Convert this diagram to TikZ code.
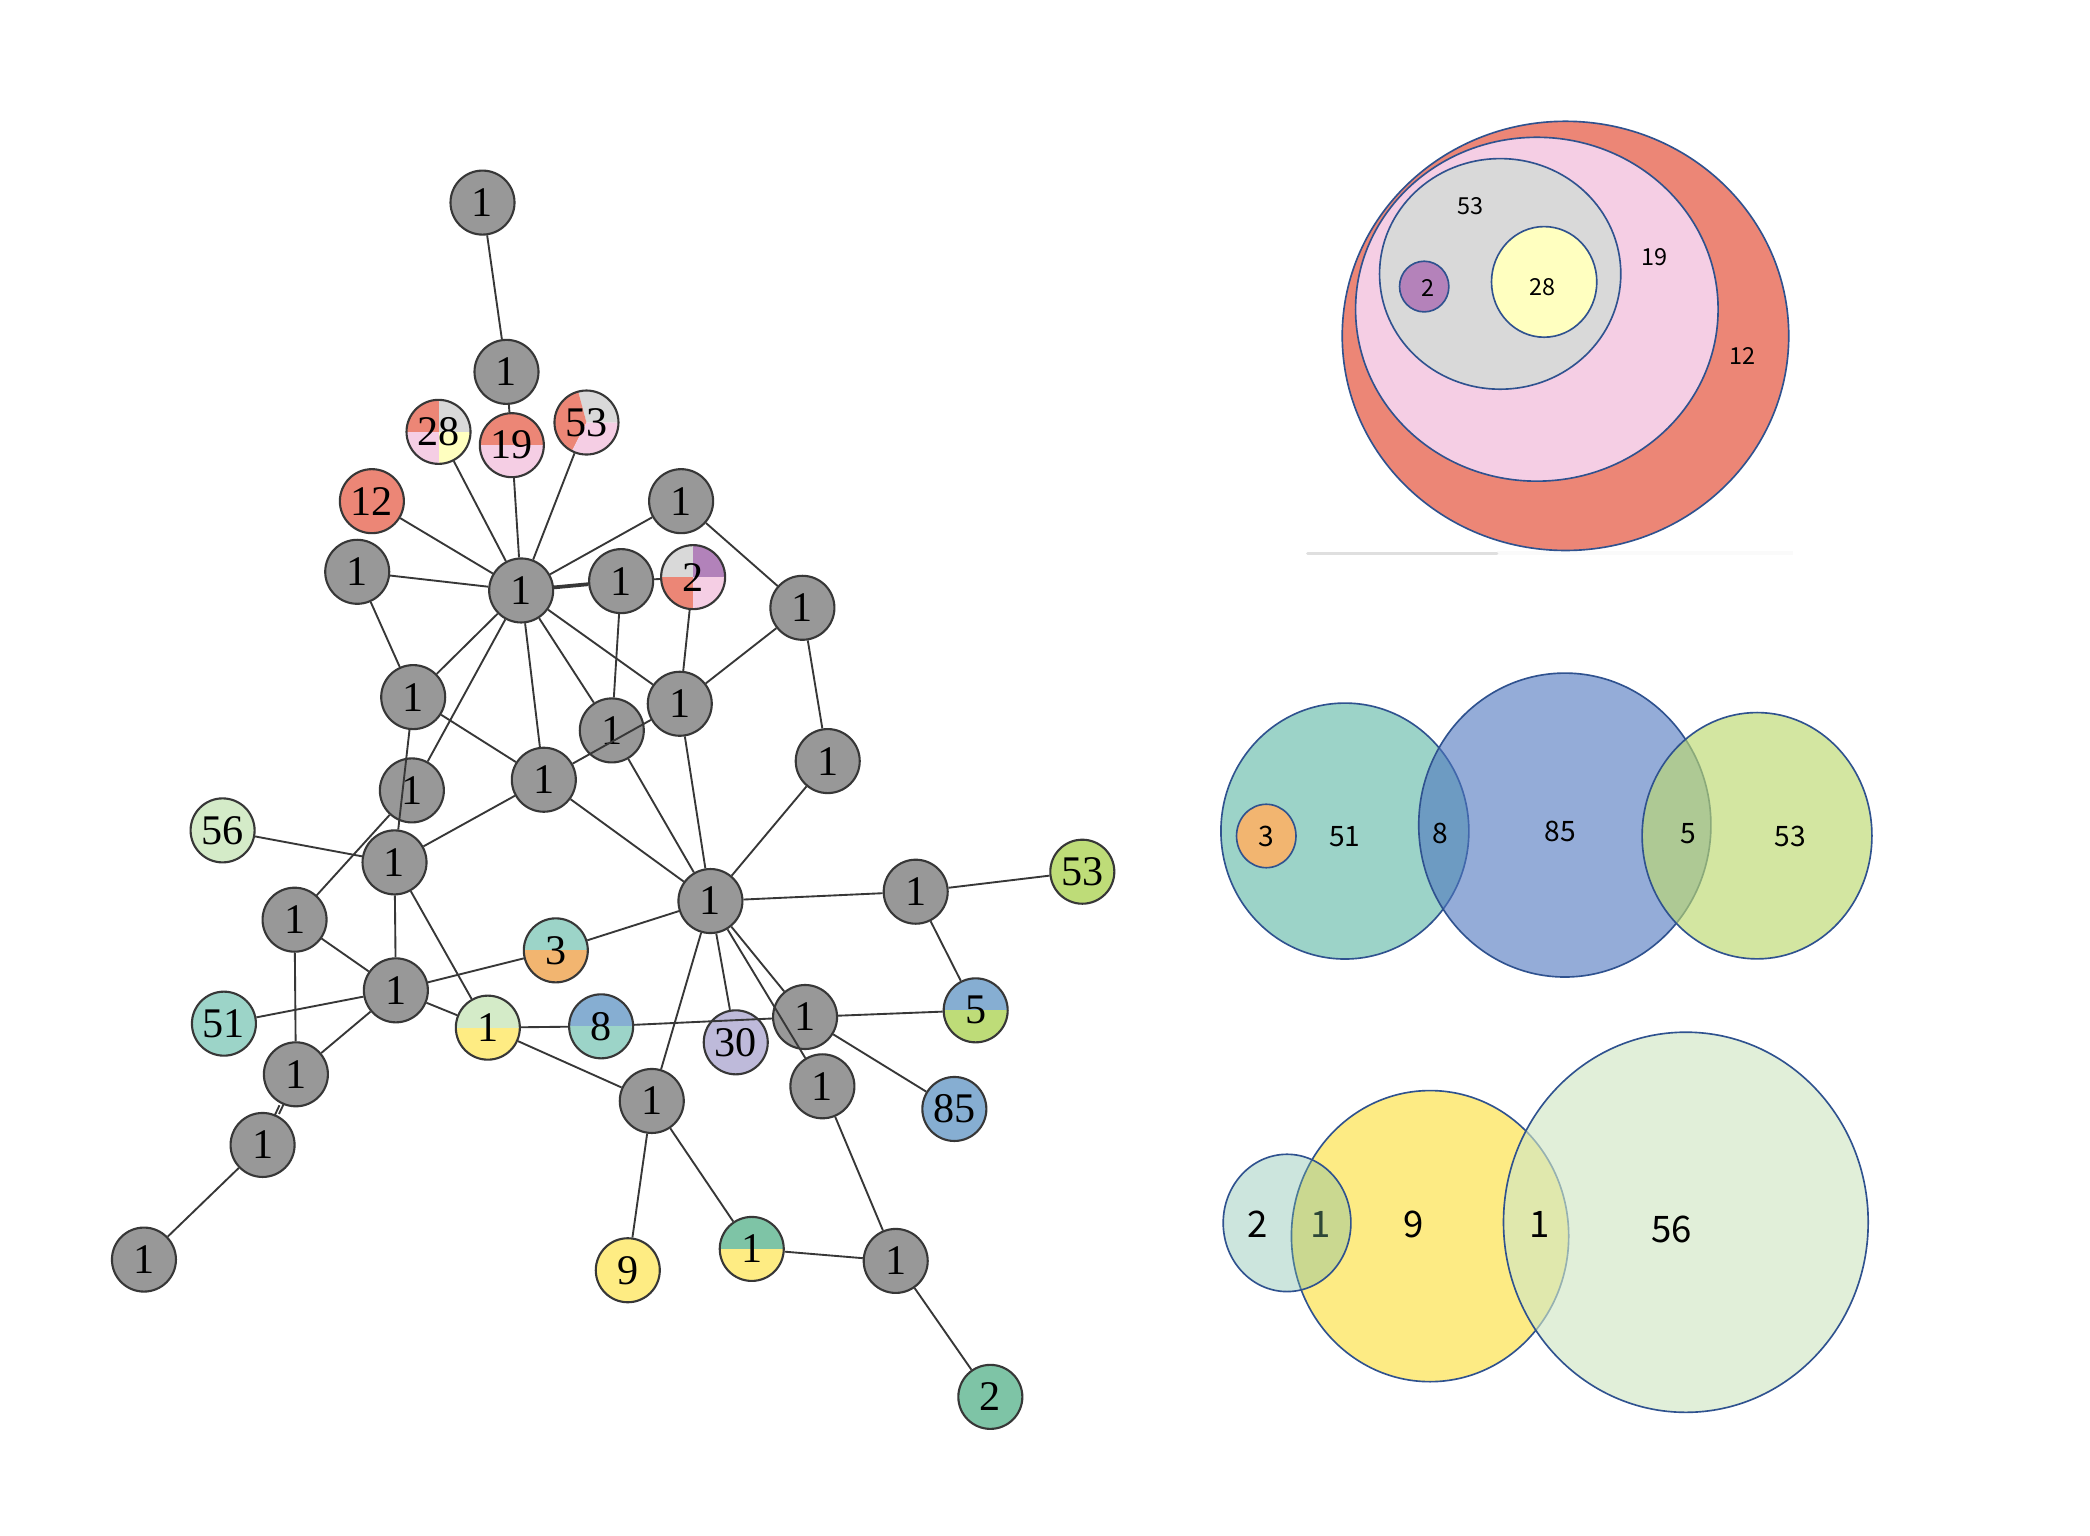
\documentclass[tikz,border=0pt]{standalone}
\usepackage{fontspec}
\newfontfamily\nodefont{Liberation Serif}
\newfontfamily\vennfont{Noto Sans CJK SC}
\definecolor{nodegray}{RGB}{152,152,152}
\definecolor{nodeline}{RGB}{55,55,55}
\definecolor{edgecol}{RGB}{55,55,55}
\definecolor{cRed}{RGB}{236,134,118}
\definecolor{cPink}{RGB}{245,206,228}
\definecolor{cLGrey}{RGB}{217,217,217}
\definecolor{cLYellow}{RGB}{255,255,192}
\definecolor{cPurple}{RGB}{178,130,186}
\definecolor{cTeal}{RGB}{156,212,200}
\definecolor{cOrange}{RGB}{242,181,112}
\definecolor{cBlue}{RGB}{134,174,210}
\definecolor{cLime}{RGB}{190,220,120}
\definecolor{cLav}{RGB}{190,186,218}
\definecolor{cYellow}{RGB}{254,236,131}
\definecolor{cLGreen}{RGB}{212,235,200}
\definecolor{cGreen}{RGB}{126,196,166}
\definecolor{vline}{RGB}{47,82,143}
\definecolor{vBlue}{RGB}{78,118,190}
\definecolor{vLime}{RGB}{188,217,112}
\definecolor{vSmall}{RGB}{121,187,166}
\definecolor{vBig}{RGB}{209,231,197}
\definecolor{vYellow}{RGB}{253,235,132}
\definecolor{vTeal}{RGB}{156,211,200}
\definecolor{vRed}{RGB}{236,134,118}
\definecolor{vPink}{RGB}{245,206,228}
\definecolor{vGrey}{RGB}{217,217,217}
\definecolor{vPurple}{RGB}{180,130,186}
\definecolor{vLYellow}{RGB}{255,255,192}
\tikzset{
  gnode/.style={circle, draw=nodeline, line width=0.45pt, minimum size=0.48cm, inner sep=0pt,
    font={\nodefont\fontsize{9pt}{10pt}\selectfont}},
  gr/.style={gnode, fill=nodegray},
  solid/.style={gnode, fill=#1},
  half/.style 2 args={gnode, path picture={
    \fill[#1] (path picture bounding box.north west) rectangle (path picture bounding box.east);
    \fill[#2] (path picture bounding box.west) rectangle (path picture bounding box.south east);}},
  quad/.style n args={4}{gnode, path picture={
    \fill[#1] (path picture bounding box.north west) rectangle (path picture bounding box.center);
    \fill[#2] (path picture bounding box.north east) rectangle (path picture bounding box.center);
    \fill[#3] (path picture bounding box.south west) rectangle (path picture bounding box.center);
    \fill[#4] (path picture bounding box.south east) rectangle (path picture bounding box.center);}},
  pie/.style={gnode, path picture={
    \fill[cLGrey] (path picture bounding box.center) -- ++(0:1cm) arc[start angle=0,end angle=105,radius=1cm] -- cycle;
    \fill[cRed] (path picture bounding box.center) -- ++(105:1cm) arc[start angle=105,end angle=243,radius=1cm] -- cycle;
    \fill[cPink] (path picture bounding box.center) -- ++(243:1cm) arc[start angle=243,end angle=360,radius=1cm] -- cycle;}},
  edge/.style={draw=edgecol, line width=0.4pt},
  venn/.style={draw=vline, line width=0.35pt},
  vlab/.style={inner sep=0pt, font={\vennfont\fontsize{#1}{#1}\selectfont}},
}
\begin{document}
\begin{tikzpicture}[x=0.01cm, y=-0.01cm]
\useasboundingbox (0,0) rectangle (1568,1152);
\fill[white] (0,0) rectangle (1568,1152);

% ---------------- graph nodes ----------------
\node[gr] (ntop) at (362,152) {1};
\node[gr] (na) at (380,279) {1};
\node[quad={cRed}{cLGrey}{cPink}{cLYellow}] (n28) at (329,324) {28};
\node[half={cRed}{cPink}] (n19) at (384,334) {19};
\node[pie] (n53a) at (440,317) {53};
\node[solid=cRed] (n12) at (279,376) {12};
\node[gr] (nl) at (268,429) {1};
\node[gr] (hub) at (391,443) {1};
\node[gr] (nb) at (466,436) {1};
\node[quad={cLGrey}{cPurple}{cRed}{cPink}] (n2) at (520,433) {2};
\node[gr] (nc) at (511,376) {1};
\node[gr] (nd) at (602,456) {1};
\node[gr] (ne) at (310,523) {1};
\node[gr] (nf) at (459,548) {1};
\node[gr] (ng) at (510,528) {1};
\node[gr] (nh) at (621,571) {1};
\node[gr] (ni) at (309,593) {1};
\node[gr] (nj) at (408,585) {1};
\node[solid=cLGreen] (n56) at (167,623) {56};
\node[gr] (nk) at (296,647) {1};
\node[gr] (hubb) at (533,676) {1};
\node[gr] (nll) at (687,669) {1};
\node[solid=cLime] (n53b) at (812,654) {53};
\node[gr] (nm) at (221,690) {1};
\node[half={cTeal}{cOrange}] (n3) at (417,713) {3};
\node[solid=cTeal] (n51) at (168,768) {51};
\node[gr] (nn) at (297,743) {1};
\node[half={cLGreen}{cYellow}] (nsa) at (366,771) {1};
\node[half={cBlue}{cTeal}] (n8) at (451,770) {8};
\node[solid=cLav] (n30) at (552,782) {30};
\node[gr] (no) at (604,763) {1};
\node[half={cBlue}{cLime}] (n5) at (732,758) {5};
\node[gr] (np) at (222,806) {1};
\node[gr] (nq) at (617,815) {1};
\node[solid=cBlue] (n85) at (716,832) {85};
\node[gr] (nr) at (489,826) {1};
\node[gr] (ns) at (197,859) {1};
\node[gr] (nt) at (108,945) {1};
\node[solid=cYellow] (n9) at (471,953) {9};
\node[half={cGreen}{cYellow}] (nsb) at (564,937) {1};
\node[gr] (nu) at (672,946) {1};
\node[solid=cGreen] (n2b) at (743,1048) {2};

% ---------------- graph edges ----------------
\draw[edge] (ntop) -- (na);
\draw[edge] (na) -- (n19);
\draw[edge] (n19) -- (hub);
\draw[edge] (n28) -- (hub);
\draw[edge] (n53a) -- (hub);
\draw[edge] (n12) -- (hub);
\draw[edge] (nl) -- (hub);
\draw[edge] (nc) -- (hub);
\draw[edge, line width=0.8pt] (hub) -- (nb);
\draw[edge] (nb) -- (n2);
\draw[edge] (nc) -- (nd);
\draw[edge] (hub) -- (ne);
\draw[edge] (hub) -- (ni);
\draw[edge] (hub) -- (nj);
\draw[edge] (hub) -- (nf);
\draw[edge] (hub) -- (ng);
\draw[edge] (nb) -- (nf);
\draw[edge] (n2) -- (ng);
\draw[edge] (nd) -- (ng);
\draw[edge] (nd) -- (nh);
\draw[edge] (nl) -- (ne);
\draw[edge] (ne) -- (nj);
\draw[edge] (ne) -- (nk);
\draw[edge] (ng) -- (nj);
\draw[edge] (nj) -- (nk);
\draw[edge] (nj) -- (hubb);
\draw[edge] (nf) -- (hubb);
\draw[edge] (ng) -- (hubb);
\draw[edge] (nh) -- (hubb);
\draw[edge] (n56) -- (nk);
\draw[edge] (ni) -- (nm);
\draw[edge] (nk) -- (nn);
\draw[edge] (nk) -- (nsa);
\draw[edge] (nm) -- (nn);
\draw[edge] (nm) -- (np);
\draw[edge] (n51) -- (nn);
\draw[edge] (nn) -- (n3);
\draw[edge] (nn) -- (nsa);
\draw[edge] (nn) -- (np);
\draw[edge, transform canvas={shift={(0.5pt,0.24pt)}}] (np) -- (ns);
\draw[edge, transform canvas={shift={(-0.5pt,-0.24pt)}}] (np) -- (ns);
\draw[edge] (ns) -- (nt);
\draw[edge] (hubb) -- (n3);
\draw[edge] (hubb) -- (nll);
\draw[edge] (hubb) -- (n30);
\draw[edge] (hubb) -- (no);
\draw[edge] (hubb) -- (nq);
\draw[edge] (hubb) -- (nr);
\draw[edge] (nll) -- (n53b);
\draw[edge] (nll) -- (n5);
\draw[edge] (n8) -- (no);
\draw[edge] (no) -- (n5);
\draw[edge] (no) -- (n85);
\draw[edge] (nsa) -- (n8);
\draw[edge] (nsa) -- (nr);
\draw[edge] (nr) -- (n9);
\draw[edge] (nr) -- (nsb);
\draw[edge] (nsb) -- (nu);
\draw[edge] (nq) -- (nu);
\draw[edge] (nu) -- (n2b);

% ---------------- top Venn (nested) ----------------
\fill[gray!4] (1123,413.5) rectangle (1345,416.5);
\draw[gray!25, line width=0.6pt, line cap=round] (981,415.5) -- (1123,415.5);
\filldraw[venn, fill=vRed] (1174.5,252) ellipse [x radius=167.5, y radius=161];
\filldraw[venn, fill=vPink] (1153,232) ellipse [x radius=136, y radius=129];
\filldraw[venn, fill=vGrey] (1125.5,205.5) ellipse [x radius=90.5, y radius=86.5];
\filldraw[venn, fill=vPurple] (1068.5,215) ellipse [x radius=18.5, y radius=19];
\filldraw[venn, fill=vLYellow] (1158.5,211.5) ellipse [x radius=39.5, y radius=41.5];
\node[vlab=5pt] (t53) at (1103,154.5) {53};
\node[vlab=5pt] (t19) at (1241.5,193) {19};
\node[vlab=5pt] (t12) at (1307,267) {12};
\node[vlab=5pt] (t2) at (1071.5,216) {2};
\node[vlab=5pt] (t28) at (1157.5,215.5) {28};

% ---------------- middle Venn ----------------
\filldraw[venn, fill=vTeal] (1009,623.5) ellipse [x radius=93, y radius=96];
\filldraw[venn, fill=vBlue, fill opacity=0.6] (1174,619) ellipse [x radius=109.6, y radius=114];
\filldraw[venn, fill=vLime, fill opacity=0.65] (1318.2,627) ellipse [x radius=86.2, y radius=92.4];
\filldraw[venn, fill=cOrange] (950,627.2) ellipse [x radius=22.3, y radius=23.8];
\node[vlab=6pt] (m3) at (950,627.5) {3};
\node[vlab=6pt] (m51) at (1009,628) {51};
\node[vlab=6pt] (m8) at (1080.4,625) {8};
\node[vlab=6pt] (m85) at (1170.4,624) {85};
\node[vlab=6pt] (m5) at (1267,625.5) {5};
\node[vlab=6pt] (m53) at (1343,627.5) {53};

% ---------------- bottom Venn ----------------
\filldraw[venn, fill=vYellow] (1072.9,927.4) ellipse [x radius=104, y radius=109.2];
\filldraw[venn, fill=vSmall, fill opacity=0.38] (965.6,917.5) ellipse [x radius=47.9, y radius=51.5];
\filldraw[venn, fill=vBig, fill opacity=0.64] (1264.8,917) ellipse [x radius=136.8, y radius=142.6];
\node[vlab=7.8pt] (b2) at (943.8,918.3) {2};
\node[vlab=7.8pt, text={rgb,255:red,45;green,70;blue,55}] (b1a) at (990.7,918.3) {1};
\node[vlab=7.8pt] (b9) at (1060.4,918.3) {9};
\node[vlab=7.8pt] (b1b) at (1155.4,918.3) {1};
\node[vlab=7.8pt] (b56) at (1254.3,922.3) {56};
\end{tikzpicture}
\end{document}
